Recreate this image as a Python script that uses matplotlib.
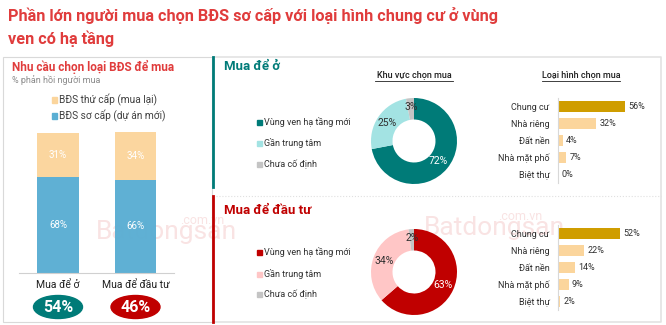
import matplotlib
matplotlib.use("Agg")
import matplotlib.pyplot as plt
import matplotlib.transforms as mtransforms
from matplotlib.patches import Ellipse, Rectangle
from matplotlib.lines import Line2D
import numpy as np

plt.rcParams["font.family"] = ["Roboto", "DejaVu Sans"]

# ==================== data ====================
TITLE = "Phần lớn người mua chọn BĐS sơ cấp với loại hình chung cư ở vùng\nven có hạ tầng"

purpose_labels = ["Mua để ở", "Mua để đầu tư"]
purpose_share = ["54%", "46%"]
primary = [68, 66]       # BĐS sơ cấp (dự án mới)
secondary = [31, 34]     # BĐS thứ cấp (mua lại)

area_labels = ["Vùng ven hạ tầng mới", "Gần trung tâm", "Chưa cố định"]
area_live = [72, 25, 3]
area_invest = [63, 34, 2]

type_labels = ["Chung cư", "Nhà riêng", "Đất nền", "Nhà mặt phố", "Biệt thự"]
type_live = [56, 32, 4, 7, 0]
type_invest = [52, 22, 14, 9, 2]

# ==================== style ====================
W, H = 666, 325
RED = "#e03c3c"
TEAL = "#007b78"
DARK_RED = "#c00000"
BLUE = "#5aaed3"
PEACH = "#fbd59c"
GOLD = "#cf9d00"
GREY = "#c4c4c4"

fig = plt.figure(figsize=(W / 100, H / 100), dpi=100)
# pixel coordinates, origin top-left
T = mtransforms.Affine2D().scale(1 / W, -1 / H).translate(0, 1) + fig.transFigure


def add_ax(left, top, width, height):
    ax = fig.add_axes([left / W, 1 - (top + height) / H, width / W, height / H])
    ax.patch.set_visible(False)
    return ax


def txt(x, y, s, **kw):
    kw.setdefault("va", "center")
    fig.text(x, y, s, transform=T, **kw)


# title
txt(8, 27, TITLE, color=RED, fontsize=11.7, fontweight="bold", linespacing=1.45)

# panel frames
fig.add_artist(Rectangle((3, 57), 209, 265, transform=T, fill=False, ec="#d9d9d9", lw=0.8))
fig.add_artist(Line2D([213, 661, 661, 213], [57, 57, 322, 322], transform=T, color="#e3e3e3", lw=1.2))
fig.add_artist(Line2D([216, 661], [196, 196], transform=T, color="#e0e0e0", lw=0.8, ls=":"))
fig.add_artist(Line2D([213, 213], [57, 187], transform=T, color=TEAL, lw=2))
fig.add_artist(Line2D([213, 213], [196, 322], transform=T, color=DARK_RED, lw=2))

# watermarks (faint, behind the charts)
for x, y, x2 in [(96, 232, 180), (424, 228, 498)]:
    txt(x, y, "Batdongsan", color="#f9e3e3", fontsize=19, zorder=-1)
    txt(x2, y - 12, ".com.vn", color="#f9e3e3", fontsize=9, zorder=-1)

# ---------- left panel ----------
txt(12, 67, "Nhu cầu chọn loại BĐS để mua", color=RED, fontsize=8.5, fontweight="bold")
txt(12, 80, "% phản hồi người mua", color="#8a8a8a", fontsize=6.5)
for y, lab, col in [(100, "BĐS thứ cấp (mua lại)", PEACH), (116, "BĐS sơ cấp (dự án mới)", BLUE)]:
    fig.add_artist(Rectangle((52, y - 3), 5, 6, transform=T, color=col))
    txt(59, y, lab, color="#404040", fontsize=7.3)

ax = add_ax(19.25, 132, 155, 141)
xs = [0, 1]
ax.bar(xs, primary, width=0.54, color=BLUE, alpha=0.97)
ax.bar(xs, secondary, width=0.54, bottom=primary, color=PEACH, alpha=0.97)
for i in xs:
    ax.text(i, primary[i] / 2, f"{primary[i]}%", ha="center", va="center", color="white", fontsize=7)
    ax.text(i, primary[i] + secondary[i] / 2, f"{secondary[i]}%", ha="center", va="center",
            color="white", fontsize=7)
ax.set_xlim(-0.5, 1.5)
ax.set_ylim(0, 100)
for s in ["top", "right", "left"]:
    ax.spines[s].set_visible(False)
ax.spines["bottom"].set_color("#d0d0d0")
ax.set_xticks([])
ax.set_yticks([])

for cx, lab, share, col in [(58, purpose_labels[0], purpose_share[0], TEAL),
                            (135.5, purpose_labels[1], purpose_share[1], DARK_RED)]:
    txt(cx, 285, lab, ha="center", color="#202020", fontsize=7.5)
    fig.add_artist(Ellipse((cx, 307), 49, 23, transform=T, color=col))
    txt(cx, 307, share, ha="center", color="white", fontsize=11.5, fontweight="bold")

# ---------- right sections ----------
txt(414, 76, "Khu vực chọn mua", ha="center", color="#202020", fontsize=6.5, fontweight="medium")
fig.add_artist(Line2D([375, 453], [81, 81], transform=T, color="#202020", lw=0.6))
txt(581, 76, "Loại hình chọn mua", ha="center", color="#202020", fontsize=6.5, fontweight="medium")
fig.add_artist(Line2D([542, 620], [81, 81], transform=T, color="#202020", lw=0.6))


def section(top_title, title_col, legend_y, colors, pie_vals, pie_cy, bar_vals, bar_top, text_cols):
    txt(224, top_title, title_col[0], color=title_col[1], fontsize=9.5, fontweight="bold")
    for y, lab, col in zip(legend_y, area_labels, colors):
        fig.add_artist(Rectangle((257, y - 2.5), 5, 5, transform=T, color=col))
        txt(264, y, lab, color="#303030", fontsize=6.5)

    pax = add_ax(414 - 43, pie_cy - 43, 86, 86)
    wedges, _ = pax.pie(pie_vals, colors=colors, startangle=90, counterclock=False,
                        wedgeprops=dict(width=0.5, linewidth=0))
    for w, v, tc in zip(wedges, pie_vals, text_cols):
        ang = np.deg2rad((w.theta1 + w.theta2) / 2)
        r = 0.74 if v > 5 else 0.8
        pax.text(r * np.cos(ang), r * np.sin(ang), f"{v}%", ha="center", va="center",
                 color=tc, fontsize=7.5)
    pax.set_xlim(-1, 1)
    pax.set_ylim(-1, 1)

    bax = add_ax(558, bar_top, 100, 84)
    ys = list(range(len(type_labels)))
    bax.barh(ys, bar_vals, height=0.66, color=[GOLD] + [PEACH] * 4)
    for y, v in zip(ys, bar_vals):
        bax.text(v + 2.5, y, f"{v}%", va="center", color="#303030", fontsize=6.5)
    bax.set_xlim(0, 100 / 1.2)
    bax.set_ylim(4.5, -0.5)
    bax.set_yticks(ys)
    bax.set_yticklabels(type_labels, fontsize=6.5, color="#303030")
    bax.tick_params(axis="y", length=0, pad=6)
    bax.set_xticks([])
    for s in ["top", "right", "bottom"]:
        bax.spines[s].set_visible(False)
    bax.spines["left"].set_color("#d8d8d8")


section(67, ("Mua để ở", TEAL), [122, 143, 164], [TEAL, "#a3e3e3", GREY], area_live, 141,
        type_live, 98.5, ["white", "#303030", "#303030"])
section(210, ("Mua để đầu tư", DARK_RED), [252, 274, 294], [DARK_RED, "#ffc6c6", GREY], area_invest, 272,
        type_invest, 225.5, ["white", "#303030", "#303030"])

fig.savefig("out.png", dpi=100)
